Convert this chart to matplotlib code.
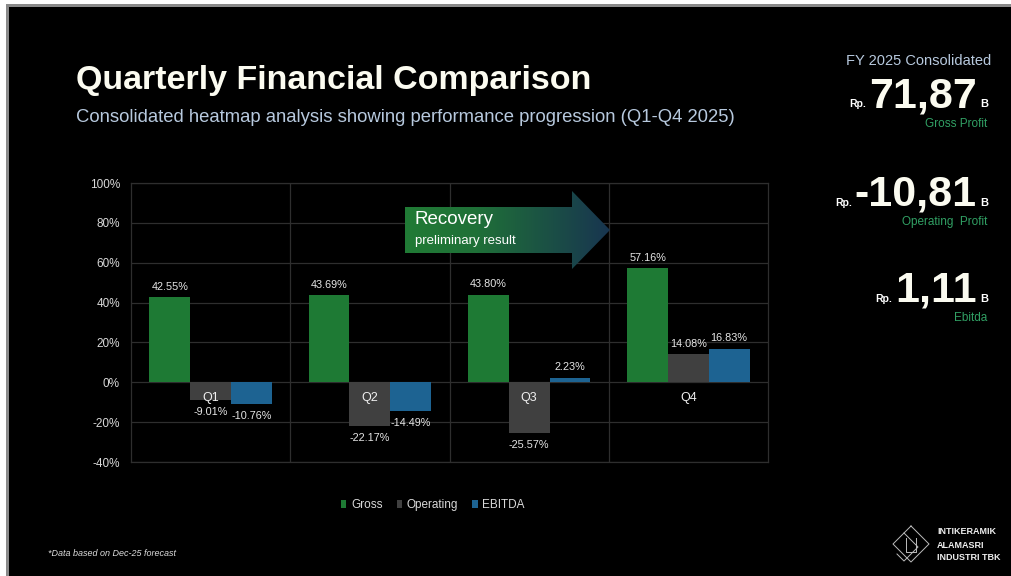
import numpy as np
import matplotlib
matplotlib.use('Agg')
import matplotlib.pyplot as plt
from matplotlib.patches import Polygon, Rectangle
from matplotlib.colors import LinearSegmentedColormap

quarters = ['Q1', 'Q2', 'Q3', 'Q4']
gross = [42.55, 43.69, 43.80, 57.16]
operating = [-9.01, -22.17, -25.57, 14.08]
ebitda = [-10.76, -14.49, 2.23, 16.83]
series_names = ['Gross', 'Operating', 'EBITDA']
series_colors = ['#1e7a34', '#404040', '#1d6392']
y_ticks = [-40, -20, 0, 20, 40, 60, 80, 100]

fy_values = ['71,87', '-10,81', '1,11']
fy_labels = ['Gross Profit', 'Operating  Profit', 'Ebitda']

W, H = 1012, 576
FONT = ['Liberation Sans', 'DejaVu Sans']
plt.rcParams['font.family'] = FONT

fig = plt.figure(figsize=(W / 100, H / 100), dpi=100, facecolor='black')

# main bar chart
ax = fig.add_axes([131 / W, 1 - 462 / H, (768 - 131) / W, (462 - 183) / H])
ax.set_facecolor('black')
grid_col = '#2e2e2e'
x = np.arange(len(quarters))
bw = 0.256
for k, (vals, name, col) in enumerate(zip([gross, operating, ebitda], series_names, series_colors)):
    pos = x + (k - 1) * bw
    ax.bar(pos, vals, bw, color=col, label=name, zorder=2)
    for p, v in zip(pos, vals):
        if v >= 0:
            ax.annotate(f'{v:.2f}%', (p, v), xytext=(0, 4), textcoords='offset points',
                        ha='center', va='bottom', fontsize=7.8, color='#e6e6e6', zorder=4)
        else:
            ax.annotate(f'{v:.2f}%', (p, v), xytext=(0, -5), textcoords='offset points',
                        ha='center', va='top', fontsize=7.8, color='#e6e6e6', zorder=4)

for i, q in enumerate(quarters):
    ax.text(i, -7.8, q, ha='center', va='center', fontsize=9, color='#f0f0f0', zorder=4)

ax.set_xlim(-0.5, len(quarters) - 0.5)
ax.set_ylim(-40, 100)
ax.set_yticks(y_ticks)
ax.set_yticklabels([f'{t}%' for t in y_ticks])
ax.set_xticks([])
ax.tick_params(axis='y', length=0, pad=8, labelsize=8.5, labelcolor='#d9d9d9')
ax.grid(axis='y', color=grid_col, linewidth=0.9, zorder=0)
for b in [0.5, 1.5, 2.5]:
    ax.axvline(b, color=grid_col, linewidth=0.9, zorder=0)
for s in ax.spines.values():
    s.set_color(grid_col)
    s.set_linewidth(0.9)

fig.legend(loc='center', bbox_to_anchor=(433 / W, 1 - 505 / H), ncol=3, frameon=False,
           fontsize=8.5, labelcolor='#d9d9d9', handlelength=0.45, handleheight=0.75,
           handletextpad=0.4, columnspacing=1.2)

# overlay in pixel coordinates for decorations and text
ov = fig.add_axes([0, 0, 1, 1], zorder=5)
ov.patch.set_visible(False)
ov.axis('off')
ov.set_xlim(0, W)
ov.set_ylim(H, 0)
ov.set_autoscale_on(False)

# recovery arrow with gradient
verts = [(405, 207), (572, 207), (572, 191), (610, 230), (572, 269), (572, 253), (405, 253)]
poly = Polygon(verts, closed=True, facecolor='none', edgecolor='none')
ov.add_patch(poly)
cmap = LinearSegmentedColormap.from_list('arr', [(0, '#217b35'), (0.35, '#1f7038'), (1, '#183550')])
grad = np.linspace(0, 1, 256).reshape(1, -1)
im = ov.imshow(grad, extent=(405, 610, 269, 191), cmap=cmap, aspect='auto', zorder=1)
im.set_clip_path(poly)
ov.text(415, 220, 'Recovery', fontsize=13.5, color='white', va='center', ha='left')
ov.text(415, 241, 'preliminary result', fontsize=9.5, color='white', va='center', ha='left')

# titles
ov.text(76, 80, 'Quarterly Financial Comparison', fontsize=24.5, weight='bold', color='#fbfbf0',
        va='center', ha='left')
ov.text(76, 117, 'Consolidated heatmap analysis showing performance progression (Q1-Q4 2025)',
        fontsize=13.3, color='#b7c9de', va='center', ha='left')

# right panel
ov.text(991, 61, 'FY 2025 Consolidated', fontsize=10.5, color='#b7c9de', va='center', ha='right')
ov.set_xlim(0, W)
ov.set_ylim(H, 0)
r = fig.canvas.get_renderer()
for val, lab, yb, yl in zip(fy_values, fy_labels, [107, 206, 302], [124, 222, 318]):
    ov.text(980, yb, 'B', fontsize=8, weight='bold', color='white', va='baseline', ha='left')
    num = ov.text(977, yb, val, fontsize=31, weight='bold', color='#fbfbf0', va='baseline', ha='right')
    bb = num.get_window_extent(r)
    ov.text(bb.x0 - 3, yb, 'Rp.', fontsize=7.5, weight='bold', color='white', va='baseline', ha='right')
    ov.text(987, yl, lab, fontsize=8.5, color='#31a064', va='center', ha='right')

# footnote
ov.text(48, 553, '*Data based on Dec-25 forecast', fontsize=6.5, style='italic', color='#dddddd',
        va='center', ha='left')

# logo
lc = '#bdbdbd'
ov.plot([911, 929, 911, 893, 911], [526, 544, 562, 544, 526], color=lc, lw=0.7)
ov.plot([904, 918, 904, 897], [533, 547, 561, 554], color=lc, lw=0.7)
ov.plot([906, 906, 916, 916], [538, 552, 552, 538], color=lc, lw=0.7)
for i, t in enumerate(['INTIKERAMIK', 'ALAMASRI', 'INDUSTRI TBK']):
    ov.text(937, 532 + i * 13, t, fontsize=6.5, weight='bold', color='#eeeeee', va='center', ha='left')

# slide border
ov.add_patch(Rectangle((0, 0), 6, H, facecolor='white', edgecolor='none', zorder=6))
ov.add_patch(Rectangle((0, 0), W, 4, facecolor='white', edgecolor='none', zorder=6))
ov.add_patch(Rectangle((6, 4), 3, H, facecolor='#8a8a8a', edgecolor='none', zorder=6))
ov.add_patch(Rectangle((6, 4), W, 3, facecolor='#8a8a8a', edgecolor='none', zorder=6))

ov.set_xlim(0, W)
ov.set_ylim(H, 0)

fig.savefig('out.png', dpi=100, facecolor='black')
